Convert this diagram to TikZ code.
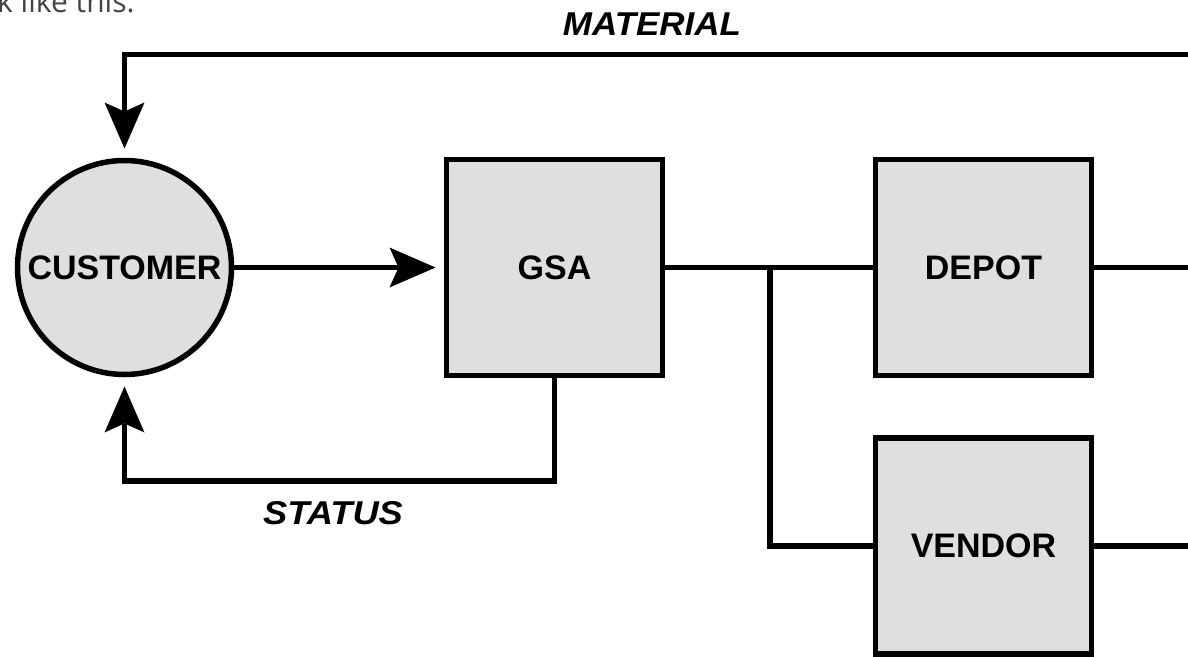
\documentclass[tikz,border=0pt]{standalone}
\usepackage{fontspec}
\setmainfont{Liberation Sans}
\newfontfamily\notefont{Open Sans}
\usetikzlibrary{arrows.meta}
\definecolor{boxgray}{HTML}{DFDFDF}
\definecolor{notegray}{HTML}{444444}
\begin{document}
\begin{tikzpicture}[x=1pt,y=-1pt,
  box/.style={draw, line width=5.5pt, fill=boxgray, minimum size=216pt, inner sep=0pt, outer sep=0pt,
    font=\bfseries\fontsize{34}{38}\selectfont},
  circ/.style={box, circle, minimum size=214pt},
  conn/.style={line width=5.5pt},
  arr/.style={conn, -{Stealth[length=46pt,width=40pt,inset=9pt,line width=0pt]}},
  lbl/.style={anchor=base, inner sep=0pt, font=\bfseries\itshape\fontsize{33}{36}\selectfont}]
\useasboundingbox (0,0) rectangle (1188,656);
% partial caption at top
\node[anchor=base west, inner sep=0pt, text=notegray, font=\notefont\fontsize{30}{36}\selectfont] (note) at (-3,12) {k like this.};
% nodes
\node[circ] (cust) at (124.5,267.5) {CUSTOMER};
\node[box] (gsa) at (554.5,267.5) {GSA};
\node[box] (depot) at (983.5,267.5) {DEPOT};
\node[box] (vendor) at (983.5,546) {VENDOR};
% labels
\node[lbl] (mat) at (652,35) {\scalebox{1.06}[1]{MATERIAL}};
\node[lbl] (stat) at (333,524) {\scalebox{1.10}[1]{STATUS}};
% free ends
\coordinate (matR) at (1195,54.3);
\coordinate (depR) at (1195,267.5);
\coordinate (venR) at (1195,546);
\coordinate (br) at (770,267.5);
\coordinate (statY) at (554.5,481);
% connectors
\draw[arr, shorten >=12pt] (matR) -| (cust.north);
\draw[arr, shorten >=11pt] (cust.east) -- (gsa.west);
\draw[arr, shorten >=12pt] (gsa.south) -- (statY) -| (cust.south);
\draw[conn] (gsa.east) -- (depot.west);
\draw[conn] (br) |- (vendor.west);
\draw[conn] (depot.east) -- (depR);
\draw[conn] (vendor.east) -- (venR);
\end{tikzpicture}
\end{document}
